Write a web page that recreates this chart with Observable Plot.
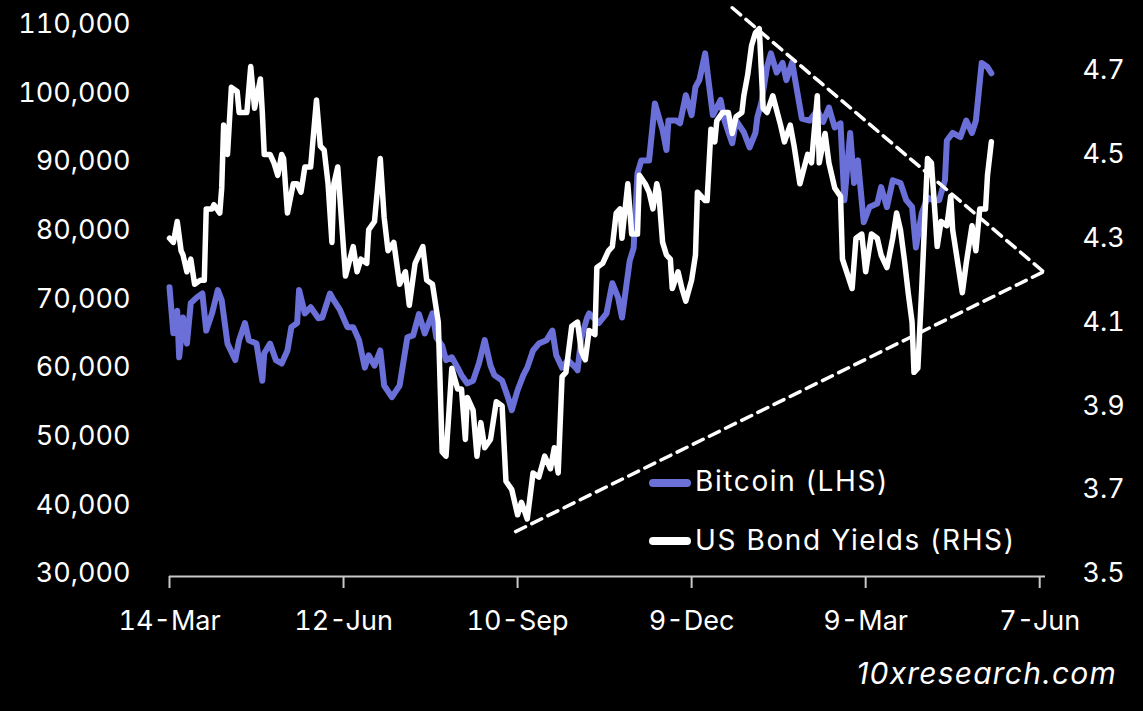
<!DOCTYPE html>
<html>
<head>
<meta charset="utf-8">
<script src="https://cdn.jsdelivr.net/npm/d3@7"></script>
<script src="https://cdn.jsdelivr.net/npm/@observablehq/plot@0.6"></script>
<style>
  html, body { margin: 0; padding: 0; background: #000; }
  #wrap { position: relative; width: 1143px; height: 711px; background: #000; overflow: hidden; font-family: Inter, "Open Sans", sans-serif; color: #fff; }
  .leg { position: absolute; font-size: 28px; line-height: 32px; letter-spacing: 1.6px; white-space: nowrap; }
  .sw { position: absolute; width: 42px; height: 8px; border-radius: 4px; }
  #wm { position: absolute; right: 26px; top: 656px; font-size: 30px; font-style: italic; line-height: 34px; letter-spacing: 1.2px; }
</style>
</head>
<body>
<div id="wrap">
  <div id="chart"></div>
  <div class="sw" style="left:649px; top:479px; background:#6b6fd8"></div>
  <div class="leg" style="left:695px; top:465px">Bitcoin (LHS)</div>
  <div class="sw" style="left:649px; top:537px; background:#ffffff"></div>
  <div class="leg" style="left:695px; top:524px">US Bond Yields (RHS)</div>
  <div id="wm">10xresearch.com</div>
</div>
<script>
const btcDates = ["2024-03-14","2024-03-16","2024-03-18","2024-03-19","2024-03-21","2024-03-23","2024-03-25","2024-03-28","2024-03-31","2024-04-02","2024-04-05","2024-04-08","2024-04-10","2024-04-13","2024-04-17","2024-04-19","2024-04-22","2024-04-24","2024-04-28","2024-05-01","2024-05-02","2024-05-05","2024-05-08","2024-05-11","2024-05-14","2024-05-16","2024-05-19","2024-05-20","2024-05-23","2024-05-26","2024-05-30","2024-06-01","2024-06-05","2024-06-07","2024-06-10","2024-06-14","2024-06-17","2024-06-20","2024-06-23","2024-06-25","2024-06-28","2024-07-01","2024-07-03","2024-07-07","2024-07-11","2024-07-15","2024-07-18","2024-07-21","2024-07-24","2024-07-28","2024-07-30","2024-08-02","2024-08-04","2024-08-07","2024-08-10","2024-08-12","2024-08-15","2024-08-18","2024-08-21","2024-08-24","2024-08-27","2024-08-29","2024-09-02","2024-09-05","2024-09-07","2024-09-10","2024-09-13","2024-09-15","2024-09-18","2024-09-21","2024-09-25","2024-09-28","2024-09-30","2024-10-03","2024-10-06","2024-10-10","2024-10-11","2024-10-13","2024-10-16","2024-10-17","2024-10-22","2024-10-26","2024-10-29","2024-11-01","2024-11-03","2024-11-07","2024-11-09","2024-11-11","2024-11-13","2024-11-17","2024-11-20","2024-11-24","2024-11-26","2024-11-27","2024-12-01","2024-12-03","2024-12-06","2024-12-09","2024-12-11","2024-12-13","2024-12-16","2024-12-18","2024-12-20","2024-12-24","2024-12-26","2024-12-30","2025-01-01","2025-01-05","2025-01-08","2025-01-11","2025-01-12","2025-01-14","2025-01-17","2025-01-19","2025-01-22","2025-01-25","2025-01-27","2025-01-30","2025-02-01","2025-02-04","2025-02-08","2025-02-12","2025-02-15","2025-02-18","2025-02-21","2025-02-24","2025-02-26","2025-03-01","2025-03-03","2025-03-05","2025-03-08","2025-03-11","2025-03-15","2025-03-17","2025-03-20","2025-03-23","2025-03-27","2025-03-30","2025-04-02","2025-04-04","2025-04-07","2025-04-10","2025-04-13","2025-04-16","2025-04-19","2025-04-20","2025-04-23","2025-04-27","2025-04-30","2025-05-03","2025-05-05","2025-05-08","2025-05-11","2025-05-13"];
const btcValues = [71700,65000,68300,61500,67300,63500,69400,70200,70800,65400,67900,71300,69800,63500,61100,64000,66500,64000,63500,58100,62100,63500,61100,60600,62500,65900,66500,71300,67900,68800,67200,67300,70800,69800,68500,65900,65900,64000,60000,61800,60300,62500,57400,55700,57400,64400,64700,67800,65000,67900,64400,63200,61100,61500,60000,58900,57700,58100,60600,64000,60300,58900,58100,55700,53800,56700,58900,60000,62500,63500,64000,65400,61800,60000,61100,60000,59600,64400,67300,67900,66500,67900,72300,70200,67300,75600,77400,88300,90200,90200,98500,94600,91700,96000,96000,95600,99700,96800,100900,101900,105800,101200,96800,99000,96000,92700,96000,94300,92100,94200,96500,98500,103800,105800,103000,104400,101900,104500,101200,96300,96000,97500,95800,97900,95000,95600,84400,94200,86900,90200,81200,83400,83900,86300,83400,87300,86900,84400,83400,77500,82500,84800,84400,84400,87300,93100,94200,93600,96000,94200,96000,104400,103800,102900];

const yieldDates = ["2024-03-14","2024-03-16","2024-03-18","2024-03-20","2024-03-21","2024-03-23","2024-03-25","2024-03-27","2024-03-30","2024-04-01","2024-04-02","2024-04-05","2024-04-06","2024-04-09","2024-04-10","2024-04-11","2024-04-13","2024-04-15","2024-04-18","2024-04-19","2024-04-23","2024-04-25","2024-04-27","2024-04-30","2024-05-01","2024-05-02","2024-05-05","2024-05-07","2024-05-09","2024-05-11","2024-05-12","2024-05-14","2024-05-17","2024-05-19","2024-05-21","2024-05-23","2024-05-26","2024-05-29","2024-05-31","2024-06-02","2024-06-04","2024-06-06","2024-06-07","2024-06-09","2024-06-13","2024-06-17","2024-06-19","2024-06-21","2024-06-24","2024-06-25","2024-06-28","2024-07-01","2024-07-03","2024-07-05","2024-07-08","2024-07-11","2024-07-14","2024-07-16","2024-07-19","2024-07-23","2024-07-25","2024-07-28","2024-07-31","2024-08-02","2024-08-04","2024-08-07","2024-08-10","2024-08-12","2024-08-14","2024-08-15","2024-08-18","2024-08-20","2024-08-22","2024-08-24","2024-08-27","2024-08-30","2024-09-02","2024-09-04","2024-09-07","2024-09-10","2024-09-12","2024-09-15","2024-09-18","2024-09-21","2024-09-24","2024-09-27","2024-09-29","2024-10-01","2024-10-03","2024-10-05","2024-10-08","2024-10-11","2024-10-13","2024-10-15","2024-10-17","2024-10-20","2024-10-21","2024-10-24","2024-10-27","2024-10-29","2024-10-31","2024-11-02","2024-11-03","2024-11-06","2024-11-08","2024-11-11","2024-11-12","2024-11-15","2024-11-17","2024-11-19","2024-11-21","2024-11-22","2024-11-24","2024-11-26","2024-11-28","2024-11-29","2024-12-02","2024-12-04","2024-12-06","2024-12-09","2024-12-11","2024-12-12","2024-12-16","2024-12-17","2024-12-19","2024-12-21","2024-12-22","2024-12-25","2024-12-28","2024-12-30","2025-01-01","2025-01-04","2025-01-05","2025-01-07","2025-01-09","2025-01-11","2025-01-13","2025-01-15","2025-01-17","2025-01-20","2025-01-24","2025-01-26","2025-01-29","2025-01-31","2025-02-03","2025-02-07","2025-02-09","2025-02-12","2025-02-13","2025-02-16","2025-02-18","2025-02-21","2025-02-24","2025-02-25","2025-03-02","2025-03-04","2025-03-07","2025-03-09","2025-03-12","2025-03-15","2025-03-17","2025-03-20","2025-03-23","2025-03-25","2025-03-27","2025-03-29","2025-03-31","2025-04-02","2025-04-03","2025-04-05","2025-04-07","2025-04-09","2025-04-10","2025-04-12","2025-04-14","2025-04-15","2025-04-17","2025-04-20","2025-04-22","2025-04-23","2025-04-25","2025-04-28","2025-04-30","2025-05-03","2025-05-05","2025-05-07","2025-05-10","2025-05-11","2025-05-13"];
const yieldValues = [4.30,4.29,4.34,4.27,4.26,4.22,4.25,4.19,4.20,4.20,4.37,4.37,4.38,4.36,4.42,4.57,4.50,4.66,4.65,4.60,4.60,4.71,4.61,4.68,4.60,4.50,4.50,4.48,4.45,4.50,4.49,4.36,4.43,4.43,4.41,4.47,4.47,4.63,4.52,4.51,4.43,4.29,4.43,4.47,4.21,4.28,4.22,4.25,4.24,4.32,4.34,4.49,4.35,4.27,4.29,4.19,4.22,4.14,4.24,4.28,4.20,4.19,4.10,3.79,3.78,3.99,3.94,3.94,3.82,3.92,3.89,3.78,3.86,3.80,3.82,3.91,3.90,3.72,3.70,3.64,3.67,3.63,3.74,3.73,3.78,3.75,3.80,3.74,3.97,3.98,4.09,4.10,4.03,4.01,4.08,4.07,4.23,4.24,4.27,4.28,4.36,4.37,4.30,4.43,4.31,4.31,4.45,4.43,4.41,4.37,4.43,4.41,4.29,4.26,4.25,4.18,4.22,4.18,4.15,4.20,4.26,4.41,4.39,4.39,4.56,4.53,4.58,4.60,4.60,4.55,4.59,4.60,4.64,4.69,4.76,4.79,4.80,4.61,4.60,4.64,4.57,4.53,4.57,4.52,4.43,4.50,4.48,4.64,4.48,4.55,4.48,4.42,4.40,4.25,4.18,4.30,4.31,4.22,4.31,4.30,4.26,4.23,4.30,4.36,4.32,4.25,4.17,4.10,3.98,3.99,4.18,4.39,4.49,4.48,4.35,4.28,4.34,4.33,4.40,4.32,4.26,4.17,4.24,4.33,4.27,4.37,4.37,4.45,4.53];

// dashed triangle annotation (yield units)
const upperTrendDates = ["2024-12-30","2025-06-09"];
const upperTrendValues = [4.85, 4.22];
const lowerTrendDates = ["2024-09-09","2025-06-09"];
const lowerTrendValues = [3.60, 4.22];

const btcTicks = [30000,40000,50000,60000,70000,80000,90000,100000,110000];
const yieldTicks = [3.5,3.7,3.9,4.1,4.3,4.5,4.7];
const xTicks = ["2024-03-14","2024-06-12","2024-09-10","2024-12-09","2025-03-09","2025-06-07"];

const btcMin = 30000, btcMax = 110000, yMin = 3.5, yMax = 4.81;
const factor = (btcMax - btcMin) / (yMax - yMin);
const y2 = v => btcMin + (v - yMin) * factor;
const inv = d => yMin + (d - btcMin) / factor;

const btc = btcDates.map((d, i) => ({date: new Date(d), value: btcValues[i]}));
const yields = yieldDates.map((d, i) => ({date: new Date(d), value: yieldValues[i]}));
const upper = upperTrendDates.map((d, i) => ({date: new Date(d), value: upperTrendValues[i]}));
const lower = lowerTrendDates.map((d, i) => ({date: new Date(d), value: lowerTrendValues[i]}));

const chart = Plot.plot({
  width: 1143,
  height: 711,
  marginLeft: 169,
  marginRight: 98,
  marginTop: 24,
  marginBottom: 138,
  x: {type: "utc", domain: [new Date("2024-03-14"), new Date("2025-06-10")]},
  y: {domain: [btcMin, btcMax], label: null},
  style: {background: "#000", color: "#fff", fontFamily: "Inter, 'Open Sans', sans-serif", fontSize: "27px", overflow: "visible"},
  marks: [
    Plot.axisY(btcTicks, {anchor: "left", tickSize: 0, tickPadding: 39, tickFormat: d3.format(","), label: null}),
    Plot.axisY(yieldTicks.map(y2), {anchor: "right", tickSize: 0, tickPadding: 37, tickFormat: d => inv(d).toFixed(1), label: null}),
    Plot.ruleY([btcMin], {stroke: "#c8c8c8", strokeWidth: 2, dy: 3}),
    Plot.axisX(xTicks.map(d => new Date(d)), {tickSize: 12, tickPadding: 22, dy: 3, stroke: "#c8c8c8", strokeWidth: 2, tickFormat: d3.utcFormat("%-d-%b"), label: null}),
    Plot.line(btc, {x: "date", y: "value", stroke: "#6b6fd8", strokeWidth: 6, strokeLinejoin: "round"}),
    Plot.line(yields, {x: "date", y: d => y2(d.value), stroke: "#ffffff", strokeWidth: 5.5, strokeLinejoin: "round"}),
    Plot.line(upper, {x: "date", y: d => y2(d.value), stroke: "#ffffff", strokeWidth: 3.5, strokeDasharray: "11,7"}),
    Plot.line(lower, {x: "date", y: d => y2(d.value), stroke: "#ffffff", strokeWidth: 3.5, strokeDasharray: "11,7"})
  ]
});
document.getElementById("chart").appendChild(chart);
</script>
</body>
</html>
